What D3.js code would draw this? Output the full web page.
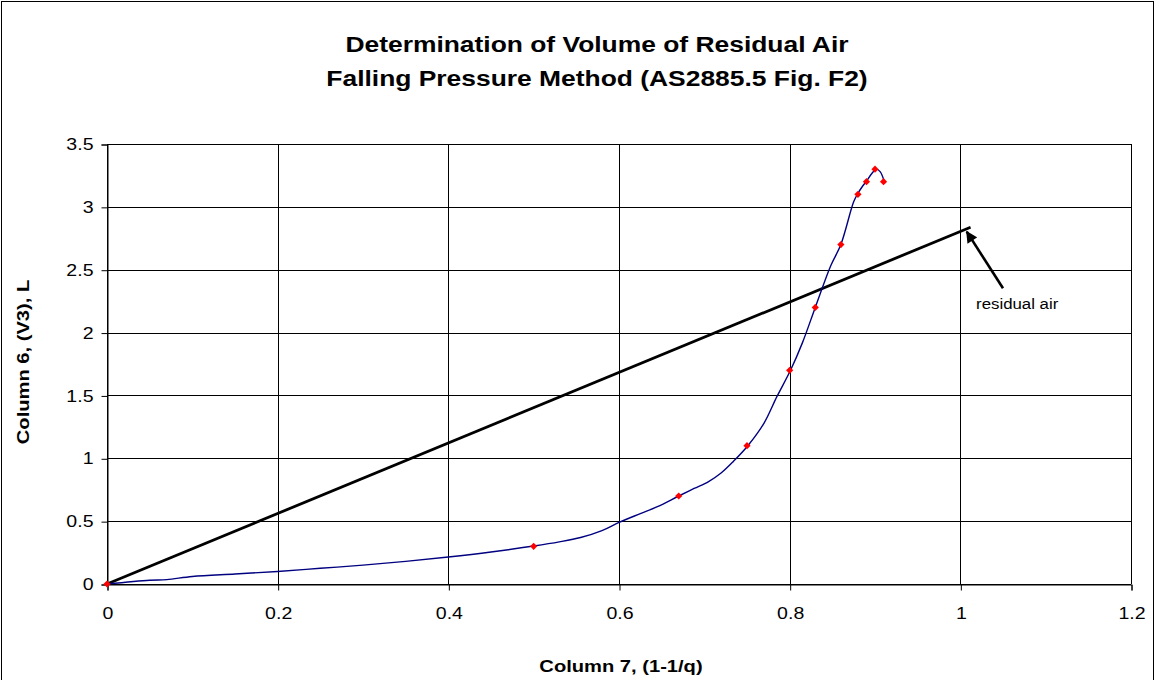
<!DOCTYPE html>
<html>
<head>
<meta charset="utf-8">
<script src="https://cdn.jsdelivr.net/npm/d3@7"></script>
<style>
  html, body { margin: 0; padding: 0; background: #fff; }
  svg { display: block; }
  text { font-family: "Liberation Sans", Arial, sans-serif; fill: #000; }
</style>
</head>
<body>
<svg id="chart" width="1155" height="680"></svg>
<script>
// ---- data ----
const titleLines = ["Determination of Volume of Residual Air", "Falling Pressure Method (AS2885.5 Fig. F2)"];
const xAxisTitle = "Column 7, (1-1/q)";
const yAxisTitle = "Column 6, (V3), L";
const xTicks = [0, 0.2, 0.4, 0.6, 0.8, 1, 1.2];
const yTicks = [0, 0.5, 1, 1.5, 2, 2.5, 3, 3.5];

// measured points (red markers)
const markerX = [0, 0.5, 0.67, 0.75, 0.8, 0.83, 0.86, 0.88, 0.89, 0.9, 0.91];
const markerY = [0, 0.3, 0.7, 1.1, 1.7, 2.2, 2.7, 3.1, 3.2, 3.3, 3.2];

// traced blue curve
const curveX = [0, 0.05, 0.07, 0.1, 0.15, 0.2, 0.25, 0.3, 0.35, 0.4, 0.45, 0.5, 0.53, 0.555, 0.58, 0.6, 0.625, 0.645, 0.670, 0.688, 0.705, 0.72, 0.734, 0.751, 0.770, 0.785, 0.801, 0.815, 0.830, 0.848, 0.860, 0.875, 0.880, 0.885, 0.8895, 0.8965, 0.9016, 0.906, 0.911];
const curveY = [0, 0.03, 0.035, 0.06, 0.08, 0.1, 0.125, 0.15, 0.18, 0.215, 0.255, 0.302, 0.335, 0.37, 0.425, 0.49, 0.56, 0.615, 0.70, 0.76, 0.815, 0.885, 0.975, 1.10, 1.28, 1.49, 1.70, 1.92, 2.20, 2.53, 2.70, 3.04, 3.108, 3.16, 3.20, 3.267, 3.30, 3.28, 3.20];

// black straight line
const lineX = [0, 1.012];
const lineY = [0, 2.838];

// annotation
const annotText = "residual air";
const arrowTip = [1.0075, 2.803];
const arrowTail = [1.050, 2.352];
const annotPos = [1.0185, 2.185];

// ---- layout ----
const svg = d3.select("#chart");
const x = d3.scaleLinear().domain([0, 1.2]).range([107, 1131]);
const y = d3.scaleLinear().domain([0, 3.5]).range([584, 144]);

function stretch(sel, k) {
  sel.each(function () {
    const l = this.getComputedTextLength();
    this.setAttribute("textLength", l * k);
    this.setAttribute("lengthAdjust", "spacingAndGlyphs");
  });
}

// outer border
svg.append("rect").attr("x", 1.5).attr("y", 1.5).attr("width", 1152).attr("height", 720)
  .attr("fill", "none").attr("stroke", "#000").attr("stroke-width", 1);

// gridlines
const grid = svg.append("g");
grid.selectAll("line.h").data(yTicks).join("line")
  .attr("x1", x(0)).attr("x2", x(1.2))
  .attr("y1", d => Math.round(y(d)) + 0.5).attr("y2", d => Math.round(y(d)) + 0.5)
  .attr("stroke", "#000").attr("stroke-width", 1);
grid.selectAll("line.v").data(xTicks).join("line")
  .attr("y1", y(0)).attr("y2", y(3.5))
  .attr("x1", d => Math.round(x(d)) + 0.5).attr("x2", d => Math.round(x(d)) + 0.5)
  .attr("stroke", "#000").attr("stroke-width", 1);

// axes
const xAxis = svg.append("g").attr("transform", `translate(0.5,${Math.round(y(0)) + 0.5})`)
  .call(d3.axisBottom(x).tickValues(xTicks).tickFormat(d3.format("")).tickSizeOuter(0).tickSize(6).tickPadding(17));
const yAxis = svg.append("g").attr("transform", `translate(${Math.round(x(0)) + 0.5},0.5)`)
  .call(d3.axisLeft(y).tickValues(yTicks).tickFormat(d3.format("")).tickSizeOuter(0).tickSize(6).tickPadding(8));
[xAxis, yAxis].forEach(a => {
  a.select(".domain").attr("stroke", "#000");
  a.selectAll(".tick line").attr("stroke", "#000");
  a.selectAll(".tick text").attr("font-family", "Liberation Sans, Arial, sans-serif")
    .attr("font-size", 16).attr("fill", "#000");
});
stretch(xAxis.selectAll(".tick text"), 1.22);
stretch(yAxis.selectAll(".tick text"), 1.22);

// black line
svg.append("path")
  .datum(lineX.map((v, i) => [v, lineY[i]]))
  .attr("d", d3.line().x(d => x(d[0])).y(d => y(d[1])))
  .attr("fill", "none").attr("stroke", "#000").attr("stroke-width", 2.8);

// blue curve
svg.append("path")
  .datum(curveX.map((v, i) => [v, curveY[i]]))
  .attr("d", d3.line().x(d => x(d[0])).y(d => y(d[1])).curve(d3.curveCatmullRom.alpha(0.5)))
  .attr("fill", "none").attr("stroke", "#000080").attr("stroke-width", 1.4);

// markers
svg.append("g").selectAll("path").data(markerX.map((v, i) => [v, markerY[i]])).join("path")
  .attr("d", d3.symbol().type(d3.symbolSquare).size(26))
  .attr("transform", d => `translate(${x(d[0])},${y(d[1])}) rotate(45)`)
  .attr("fill", "#ff0000");

// arrow annotation
const defs = svg.append("defs");
defs.append("marker").attr("id", "ah").attr("viewBox", "0 0 10 10")
  .attr("refX", 9).attr("refY", 5).attr("markerWidth", 5).attr("markerHeight", 4.5)
  .attr("markerUnits", "strokeWidth").attr("orient", "auto")
  .append("path").attr("d", "M0,0 L10,5 L0,10 z").attr("fill", "#000");
svg.append("line")
  .attr("x1", x(arrowTail[0])).attr("y1", y(arrowTail[1]))
  .attr("x2", x(arrowTip[0])).attr("y2", y(arrowTip[1]))
  .attr("stroke", "#000").attr("stroke-width", 2.6).attr("marker-end", "url(#ah)");
const at = svg.append("text").attr("x", x(annotPos[0])).attr("y", y(annotPos[1]))
  .attr("font-size", 14).text(annotText);
stretch(at, 1.2);

// titles
const tt = svg.append("g");
titleLines.forEach((t, i) => {
  tt.append("text").attr("x", 597).attr("y", 52 + i * 34)
    .attr("text-anchor", "middle").attr("font-size", 22).attr("font-weight", "bold").text(t);
});
stretch(tt.selectAll("text"), 1.2);

const xt = svg.append("text").attr("x", 621).attr("y", 672).attr("text-anchor", "middle")
  .attr("font-size", 16.5).attr("font-weight", "bold").text(xAxisTitle);
stretch(xt, 1.22);
const yt = svg.append("text").attr("transform", "translate(29,362) rotate(-90)").attr("text-anchor", "middle")
  .attr("font-size", 16.5).attr("font-weight", "bold").text(yAxisTitle);
stretch(yt, 1.22);
</script>
</body>
</html>
